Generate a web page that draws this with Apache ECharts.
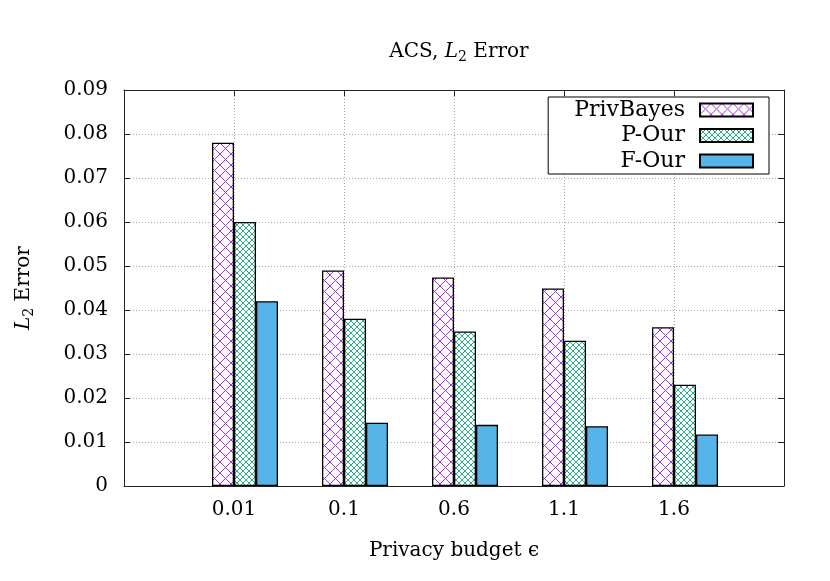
<!DOCTYPE html>
<html>
<head>
<meta charset="utf-8">
<script src="https://cdn.jsdelivr.net/npm/echarts@6/dist/echarts.min.js"></script>
<style>
  html, body { margin: 0; padding: 0; background: #fff; }
  #box { width: 830px; height: 581px; }
</style>
</head>
<body>
<div id="box"></div>
<script>
// data
const categories = ["", "0.01", "0.1", "0.6", "1.1", "1.6", ""];
const privBayes = ["-", 0.078, 0.049, 0.0474, 0.0449, 0.0361, "-"];
const pOur = ["-", 0.060, 0.038, 0.0351, 0.033, 0.023, "-"];
const fOur = ["-", 0.042, 0.0144, 0.0139, 0.0136, 0.0117, "-"];
const yTicks = [0, 0.01, 0.02, 0.03, 0.04, 0.05, 0.06, 0.07, 0.08, 0.09];

const FONT = "DejaVu Serif";

// crosshatch pattern
function hatch(size, color) {
  const c = document.createElement("canvas");
  c.width = size;
  c.height = size;
  const g = c.getContext("2d");
  g.fillStyle = "#fff";
  g.fillRect(0, 0, size, size);
  g.strokeStyle = color;
  g.lineWidth = 1;
  g.beginPath();
  g.moveTo(0, 0);
  g.lineTo(size, size);
  g.moveTo(size, 0);
  g.lineTo(0, size);
  g.stroke();
  return c;
}

const richL2 = {
  n: { fontFamily: FONT, fontSize: 20, fontWeight: "normal", color: "#000" },
  i: { fontFamily: FONT, fontSize: 20, fontWeight: "normal", fontStyle: "italic", color: "#000" },
  s: { fontFamily: FONT, fontSize: 14, fontWeight: "normal", color: "#000", padding: [10, 0, 0, 0] },
};

let chart = echarts.init(document.getElementById("box"));

let option = {
  backgroundColor: "#fff",
  animation: false,
  title: {
    text: "{n|ACS, }{i|L}{s|2}{n| Error}",
    left: 454,
    textAlign: "center",
    top: 35,
    textStyle: { fontWeight: "normal", rich: richL2 },
  },
  legend: {
    data: ["PrivBayes", "P-Our", "F-Our"],
    orient: "vertical",
    align: "right",
    icon: "rect",
    right: 61,
    top: 97,
    itemWidth: 53,
    itemHeight: 13,
    itemGap: 3.5,
    padding: [2, 15, 2, 26],
    backgroundColor: "#fff",
    borderColor: "#000",
    borderWidth: 1,
    borderRadius: 0,
    textStyle: {
      fontFamily: FONT,
      fontSize: 22,
      lineHeight: 20,
      color: "#000",
      padding: [0, 10, 0, 0],
    },
  },
  grid: { left: 124, right: 46, top: 90, bottom: 95 },
  xAxis: [
    {
      type: "category",
      data: categories,
      boundaryGap: false,
      name: "Privacy budget ϵ",
      nameLocation: "middle",
      nameGap: 55,
      nameTextStyle: { fontFamily: FONT, fontSize: 20, color: "#000" },
      axisLine: { lineStyle: { color: "#222", width: 1 } },
      axisTick: { show: false },
      axisLabel: { fontFamily: FONT, fontSize: 20, color: "#000", margin: 14, interval: 0 },
      splitLine: { show: true, lineStyle: { color: "#aaa", type: [1, 2] } },
    },
    {
      type: "category",
      data: categories,
      boundaryGap: false,
      position: "top",
      axisLine: { onZero: false, lineStyle: { color: "#222", width: 1 } },
      axisTick: { inside: true, length: 6, interval: 0, lineStyle: { color: "#222" } },
      axisLabel: { show: false },
      splitLine: { show: false },
    },
  ],
  yAxis: [
    {
      type: "value",
      min: 0,
      max: 0.09,
      interval: 0.01,
      name: "{i|L}{s|2}{n| Error}",
      nameLocation: "middle",
      nameRotate: 90,
      nameGap: 88,
      nameTextStyle: { fontWeight: "normal", rich: richL2 },
      axisLine: { show: true, lineStyle: { color: "#222", width: 1 } },
      axisTick: { show: true, inside: true, length: 6, lineStyle: { color: "#222" } },
      axisLabel: {
        fontFamily: FONT,
        fontSize: 20,
        color: "#000",
        margin: 16,
        formatter: (v) => {
          let t = yTicks.find((k) => Math.abs(k - v) < 1e-9);
          return t === 0 ? "0" : t.toFixed(2);
        },
      },
      splitLine: { show: true, lineStyle: { color: "#aaa", type: [1, 2] } },
    },
    {
      type: "value",
      min: 0,
      max: 0.09,
      interval: 0.01,
      position: "right",
      axisLine: { show: true, onZero: false, lineStyle: { color: "#222", width: 1 } },
      axisTick: { show: true, inside: true, length: 6, lineStyle: { color: "#222" } },
      axisLabel: { show: false },
      splitLine: { show: false },
    },
  ],
  series: [
    {
      // empty slot so the cluster sits right of the tick like gnuplot
      name: "pad",
      type: "bar",
      data: categories.map(() => "-"),
      barWidth: 22,
      barGap: "0%",
      silent: true,
    },
    {
      name: "PrivBayes",
      type: "bar",
      data: privBayes,
      barWidth: 22,
      barGap: "0%",
      itemStyle: {
        color: { image: hatch(11, "#a533e8"), repeat: "repeat" },
        borderColor: "#000",
        borderWidth: 1.3,
      },
    },
    {
      name: "P-Our",
      type: "bar",
      data: pOur,
      barWidth: 22,
      barGap: "0%",
      itemStyle: {
        color: { image: hatch(6, "#2aae85"), repeat: "repeat" },
        borderColor: "#000",
        borderWidth: 1.3,
      },
    },
    {
      name: "F-Our",
      type: "bar",
      data: fOur,
      barWidth: 22,
      barGap: "0%",
      itemStyle: {
        color: "#56b4e9",
        borderColor: "#000",
        borderWidth: 1.3,
      },
    },
  ],
};

chart.setOption(option);
</script>
</body>
</html>
